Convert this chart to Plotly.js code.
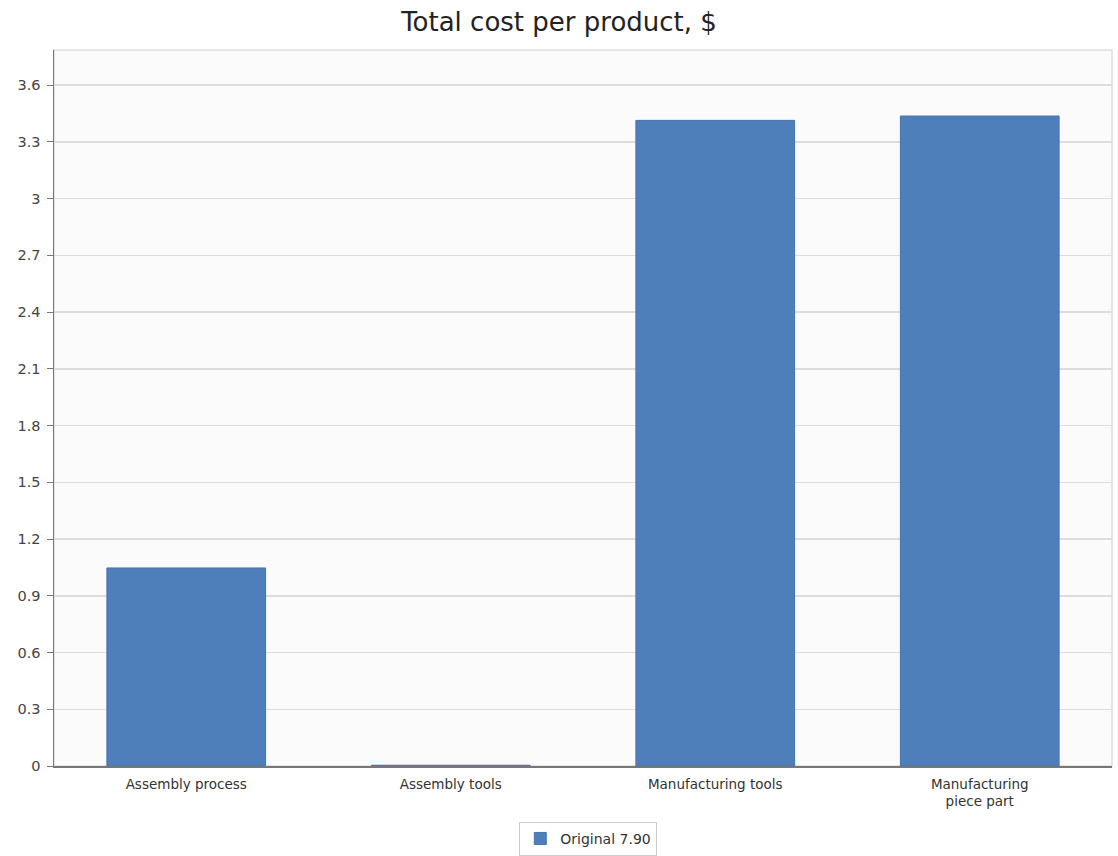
<!DOCTYPE html>
<html><head><meta charset="utf-8">
<script src="https://cdn.plot.ly/plotly-3.0.1.min.js"></script>
<style>html,body{margin:0;padding:0;background:#fff}</style>
</head><body>
<div id="chart" style="width:1118px;height:856px"></div>
<script>
const categories = ["Assembly process", "Assembly tools", "Manufacturing tools", "Manufacturing<br>piece part"];
const values = [1.047, 0.004, 3.413, 3.436];
const seriesName = "Original 7.90";
const yTicks = [0, 0.3, 0.6, 0.9, 1.2, 1.5, 1.8, 2.1, 2.4, 2.7, 3, 3.3, 3.6];

const trace = {
  type: "bar", x: categories, y: values, name: seriesName,
  marker: {color: "#4e7fba", line: {color: "#4574ad", width: 1}},
  showlegend: true, hoverinfo: "x+y"
};
const layout = {
  width: 1118, height: 856,
  margin: {l: 54, r: 6, t: 50, b: 90, autoexpand: false},
  paper_bgcolor: "#ffffff", plot_bgcolor: "#fbfbfb",
  font: {family: "DejaVu Sans, Verdana, sans-serif", color: "#333"},
  title: {text: "Total cost per product, $", x: 0.5, xanchor: "center", y: 0.975, yanchor: "middle",
          font: {size: 26, color: "#222", family: "DejaVu Sans, sans-serif"}},
  bargap: 0.4,
  xaxis: {showgrid: false, showline: true, linecolor: "#777", linewidth: 1.5, ticks: "",
          tickfont: {size: 13.5, color: "#333"}, ticklabelstandoff: 5, fixedrange: true},
  yaxis: {range: [0, 3.785], tickvals: yTicks, ticktext: yTicks.map(String),
          showgrid: true, gridcolor: "#dddddd", gridwidth: 1.5, zeroline: false,
          showline: true, linecolor: "#777", linewidth: 1.5, ticks: "outside", ticklen: 6,
          tickcolor: "#777", tickfont: {size: 14.5, color: "#444"}, ticklabelstandoff: 3},
  legend: {orientation: "h", x: 0.505, xanchor: "center", y: -0.078, yanchor: "top",
           bordercolor: "#cccccc", borderwidth: 1, bgcolor: "#fff",
           font: {size: 14, color: "#333"}},
  shapes: [{type: "rect", xref: "paper", yref: "paper", x0: 0, x1: 1, y0: 0, y1: 1,
            line: {color: "#dddddd", width: 1.5}, layer: "below"}]
};
Plotly.newPlot("chart", [trace], layout, {displayModeBar: false, staticPlot: true});
</script>
</body></html>
